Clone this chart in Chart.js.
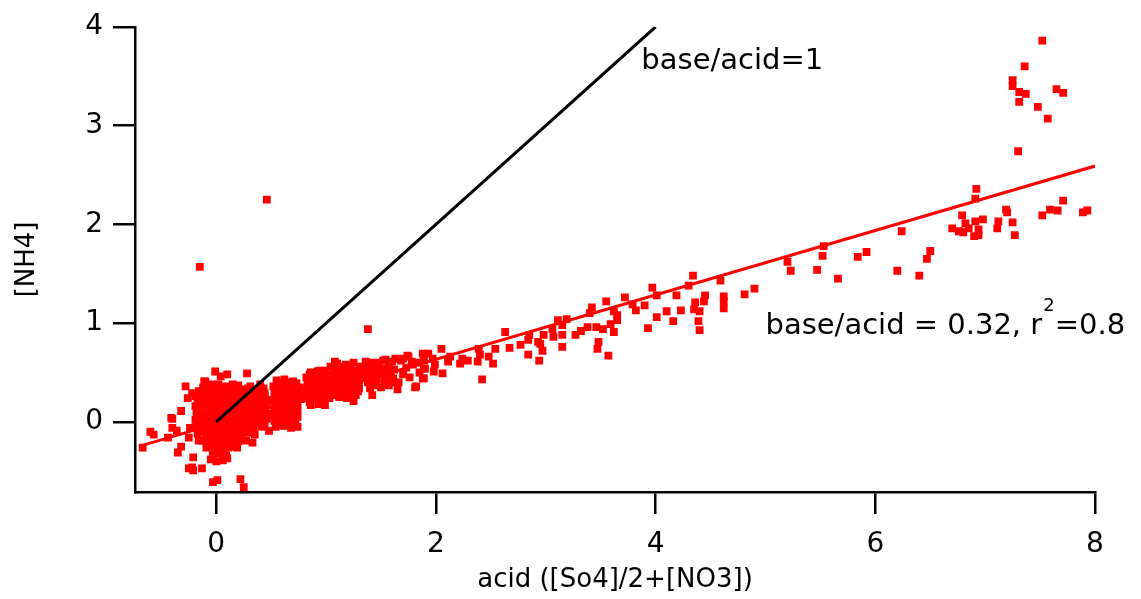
<!DOCTYPE html>
<html>
<head>
<meta charset="utf-8">
<script src="https://cdn.jsdelivr.net/npm/chart.js@4.4.0/dist/chart.umd.min.js"></script>
<style>
  html, body { margin: 0; padding: 0; background: #fff; }
  #wrap { width: 1141px; height: 599px; }
</style>
</head>
<body>
<div id="wrap"><canvas id="nh4Chart" width="1141" height="599"></canvas></div>
<script>
// axis ranges / ticks
const xRange = [-0.74, 8];
const yRange = [-0.71, 4];
const xStep = 2;
const yStep = 1;

// reference lines
const oneToOne = [[0, 0], [4, 4]];
const fitLine = [[-0.68, -0.24], [8, 2.59]];

// dense cloud around the origin
const coreCluster = [
  [-0.08,0.37],[0.02,0.38],[0.09,0.36],[0.20,0.37],[0.31,0.36],[0.40,0.38],[-0.16,0.31],[-0.12,0.35],
  [-0.07,0.30],[0.00,0.31],[0.06,0.29],[0.13,0.30],[0.19,0.31],[0.26,0.29],[0.32,0.30],[0.38,0.31],[0.44,0.29],
  [-0.17,0.23],[-0.11,0.22],[-0.04,0.24],[0.02,0.23],[0.09,0.22],[0.15,0.24],[0.21,0.23],[0.28,0.22],[0.34,0.24],[0.41,0.23],[0.47,0.22],
  [-0.19,0.16],[-0.12,0.17],[-0.06,0.15],[0.01,0.16],[0.07,0.17],[0.14,0.15],[0.20,0.16],[0.27,0.17],[0.33,0.15],[0.40,0.16],[0.46,0.17],
  [-0.18,0.09],[-0.12,0.08],[-0.05,0.10],[0.01,0.09],[0.08,0.08],[0.14,0.10],[0.21,0.09],[0.27,0.08],[0.34,0.10],[0.40,0.09],[0.47,0.08],
  [-0.19,0.02],[-0.13,0.03],[-0.06,0.01],[0.00,0.02],[0.07,0.03],[0.13,0.01],[0.20,0.02],[0.26,0.03],[0.33,0.01],[0.39,0.02],[0.46,0.03],
  [-0.18,-0.05],[-0.11,-0.04],[-0.05,-0.06],[0.02,-0.05],[0.08,-0.04],[0.15,-0.06],[0.21,-0.05],[0.28,-0.04],[0.34,-0.06],[0.41,-0.05],
  [-0.17,-0.12],[-0.10,-0.11],[-0.04,-0.13],[0.03,-0.12],[0.09,-0.11],[0.16,-0.13],[0.22,-0.12],[0.29,-0.11],[0.35,-0.13],
  [-0.12,-0.19],[-0.05,-0.18],[0.01,-0.20],[0.08,-0.19],[0.14,-0.18],[0.20,-0.20],[0.27,-0.19],
  [-0.09,-0.26],[-0.02,-0.25],[0.04,-0.27],[0.11,-0.26],[0.17,-0.25],
  [-0.03,-0.33],[0.03,-0.32],[0.09,-0.34],
  [0.00,-0.40],[0.06,-0.39]
];

// more points packed in between the core ones
const coreFill = [
  [-0.02,0.34],[0.05,0.34],[0.12,0.33],[0.17,0.34],[0.24,0.33],[0.29,0.34],[0.36,0.33],[0.43,0.34],
  [-0.14,0.26],[-0.08,0.27],[-0.01,0.26],[0.05,0.26],[0.12,0.27],[0.18,0.26],[0.25,0.26],[0.31,0.27],[0.37,0.26],[0.44,0.26],
  [-0.15,0.19],[-0.09,0.19],[-0.02,0.20],[0.04,0.19],[0.11,0.19],[0.17,0.20],[0.24,0.19],[0.30,0.19],[0.37,0.20],[0.43,0.19],
  [-0.16,0.12],[-0.09,0.12],[-0.03,0.13],[0.04,0.12],[0.10,0.12],[0.17,0.13],[0.23,0.12],[0.30,0.12],[0.36,0.13],[0.43,0.12],
  [-0.16,0.05],[-0.10,0.05],[-0.03,0.06],[0.04,0.05],[0.10,0.05],[0.17,0.06],[0.23,0.05],[0.30,0.05],[0.36,0.06],[0.43,0.05],
  [-0.16,-0.02],[-0.09,-0.02],[-0.02,-0.01],[0.05,-0.02],[0.11,-0.02],[0.18,-0.01],[0.24,-0.02],[0.31,-0.02],[0.37,-0.01],[0.44,-0.02],
  [-0.14,-0.09],[-0.07,-0.09],[-0.01,-0.08],[0.06,-0.09],[0.12,-0.09],[0.19,-0.08],[0.25,-0.09],[0.32,-0.09],
  [-0.09,-0.16],[-0.02,-0.16],[0.04,-0.15],[0.11,-0.16],[0.17,-0.16],[0.23,-0.15],
  [-0.06,-0.23],[0.01,-0.23],[0.07,-0.22],[0.14,-0.23],
  [0.00,-0.30],[0.06,-0.29]
];

// dense band from ~0.5 to ~1.9
const bandPoints = [
  [0.55,0.42],[0.62,0.43],[0.70,0.41],
  [0.52,0.36],[0.58,0.35],[0.64,0.37],[0.70,0.36],[0.76,0.35],
  [0.53,0.29],[0.59,0.30],[0.65,0.28],[0.71,0.29],[0.77,0.30],
  [0.52,0.22],[0.58,0.23],[0.64,0.21],[0.71,0.22],[0.77,0.23],
  [0.53,0.15],[0.59,0.16],[0.65,0.14],[0.71,0.15],
  [0.52,0.08],[0.58,0.09],[0.65,0.07],[0.71,0.08],
  [0.53,0.01],[0.59,0.02],[0.66,0.00],[0.72,0.01],
  [0.54,-0.05],[0.61,-0.04],[0.68,-0.06],[0.74,-0.05],
  [0.86,0.50],[0.92,0.51],[0.99,0.52],
  [0.82,0.45],[0.88,0.44],[0.95,0.46],[1.01,0.45],
  [0.83,0.38],[0.89,0.37],[0.96,0.39],[1.02,0.38],
  [0.82,0.31],[0.88,0.30],[0.95,0.32],[1.01,0.31],
  [0.83,0.24],[0.90,0.23],[0.96,0.25],[1.03,0.24],
  [0.86,0.17],[0.93,0.18],[0.99,0.17],
  [1.08,0.61],[1.10,0.59],[1.18,0.58],[1.25,0.60],
  [1.07,0.52],[1.13,0.53],[1.20,0.51],[1.27,0.52],
  [1.08,0.45],[1.14,0.44],[1.21,0.46],[1.28,0.45],
  [1.07,0.38],[1.13,0.37],[1.20,0.39],[1.26,0.38],
  [1.09,0.31],[1.16,0.30],[1.22,0.32],[1.29,0.31],
  [1.12,0.25],[1.19,0.24],
  [1.36,0.61],[1.45,0.60],[1.52,0.62],[1.60,0.61],[1.38,0.60],[1.54,0.63],[1.63,0.64],
  [1.34,0.54],[1.41,0.53],[1.48,0.55],[1.55,0.54],[1.62,0.53],
  [1.35,0.47],[1.42,0.46],[1.49,0.48],[1.57,0.47],
  [1.38,0.40],[1.45,0.41],[1.53,0.39],[1.60,0.40],
  [1.40,0.34],[1.50,0.35],
  [1.68,0.62],[1.73,0.55],[1.79,0.58],[1.85,0.50],[1.70,0.48],[1.76,0.45],[1.84,0.60],[1.90,0.54],[1.66,0.40]
];

// more points packed in between the band ones
const bandFill = [
  [0.55,0.39],[0.61,0.39],[0.67,0.40],[0.73,0.39],
  [0.55,0.32],[0.62,0.33],[0.68,0.32],[0.74,0.32],[0.79,0.33],
  [0.55,0.25],[0.61,0.26],[0.68,0.25],[0.74,0.25],[0.80,0.26],
  [0.55,0.19],[0.62,0.19],[0.68,0.18],[0.74,0.19],
  [0.55,0.12],[0.62,0.12],[0.68,0.11],[0.74,0.12],
  [0.55,0.05],[0.62,0.05],[0.68,0.04],[0.74,0.05],
  [0.56,-0.02],[0.63,-0.02],[0.69,-0.01],
  [0.85,0.48],[0.92,0.48],[0.98,0.49],[1.05,0.48],[1.11,0.48],[1.17,0.49],[1.24,0.48],[1.30,0.48],
  [0.85,0.41],[0.92,0.41],[0.98,0.42],[1.05,0.41],[1.11,0.41],[1.17,0.42],[1.24,0.41],[1.30,0.41],
  [0.85,0.34],[0.92,0.34],[0.98,0.35],[1.05,0.34],[1.11,0.34],[1.17,0.35],[1.24,0.34],[1.30,0.34],
  [0.86,0.27],[0.93,0.27],[0.99,0.28],[1.14,0.27],[1.21,0.28],[1.27,0.27],
  [0.85,0.20],[0.96,0.21],
  [1.04,0.56],[1.15,0.56],[1.22,0.55],[1.31,0.56],
  [1.40,0.58],[1.48,0.58],[1.57,0.57],
  [1.38,0.51],[1.45,0.50],[1.52,0.51],[1.59,0.50],
  [1.38,0.44],[1.46,0.43],[1.53,0.44],[1.61,0.44],
  [1.43,0.37],[1.57,0.37]
];

// scattered points left of / below the core
const lowOutliers = [
  [-0.67,-0.26],[-0.60,-0.10],[-0.57,-0.13],[-0.44,-0.16],[-0.40,0.03],[-0.40,-0.06],[-0.36,-0.09],
  [-0.32,0.11],[-0.35,-0.31],[-0.32,-0.25],[-0.28,0.36],[-0.26,0.24],[-0.22,0.29],[-0.24,-0.06],
  [-0.25,-0.16],[-0.25,-0.47],[-0.21,-0.49],[-0.21,-0.36],[-0.13,-0.47],[-0.16,-0.19],[-0.10,0.41],
  [-0.13,0.29],[-0.19,0.26],[-0.15,0.19],[-0.01,0.51],[0.04,0.46],[0.10,0.48],[0.28,0.49],
  [-0.04,0.38],[0.15,0.38],[0.01,-0.59],[-0.03,-0.61],[0.22,-0.58],[0.25,-0.66],[0.08,-0.36],
  [-0.05,-0.38],[0.19,-0.26],[0.33,-0.21],[0.05,-0.32],[-0.01,-0.32],[-0.11,0.41],[-0.41,0.04],
  [-0.22,-0.46],[0.18,-0.24],[0.48,-0.09],[0.10,-0.37],
  [-0.15,1.57],[0.46,2.25],[0.94,0.52],[1.38,0.94],[1.25,0.21],[1.42,0.27],[1.65,0.33],[1.06,0.27],
  [1.81,0.35],[1.89,0.44],[1.74,0.67]
];

// middle range, acid 1.7 - 4.4
const scatterMid = [
  [4.34,1.48],[4.30,1.38],[3.97,1.36],[4.01,1.28],[4.19,1.28],[3.72,1.26],[3.55,1.22],[3.42,1.16],
  [3.79,1.19],[3.90,1.18],[3.82,1.13],[3.40,1.10],[3.62,1.12],[3.65,1.08],[4.36,1.21],[4.35,1.14],
  [4.40,1.12],[4.10,1.12],[4.23,1.13],[4.01,1.06],[4.16,1.02],[4.39,1.02],[4.40,0.93],[3.65,1.03],
  [3.59,0.99],[3.52,0.94],[3.62,0.91],[3.93,0.95],[3.46,0.96],[3.38,0.96],[3.32,0.92],[3.27,0.88],
  [3.48,0.81],[3.47,0.74],[3.57,0.67],[3.11,1.03],[3.19,1.04],[3.15,0.98],[3.06,0.94],[3.15,0.88],
  [3.07,0.86],[3.15,0.76],[2.98,0.88],[2.85,0.88],[2.84,0.83],[2.93,0.81],[2.95,0.79],[2.97,0.72],
  [2.84,0.68],[2.94,0.62],[2.63,0.91],[2.67,0.75],[2.77,0.78],[2.54,0.74],[2.48,0.66],[2.52,0.59],
  [2.42,0.43],[2.39,0.74],[2.40,0.68],[2.38,0.61],[2.05,0.74],[2.13,0.66],[2.24,0.64],[2.29,0.62],
  [2.22,0.59],[2.11,0.61],[1.97,0.64],[1.99,0.58],[2.06,0.49],[1.89,0.62],[1.88,0.69],[1.93,0.69],
  [1.89,0.54],[1.88,0.44],[1.82,0.36],[1.98,0.51],[1.75,0.66],[1.70,0.64],[1.78,0.61]
];

// high range, acid > 4.4
const scatterHigh = [
  [7.52,3.86],[7.36,3.60],[7.25,3.46],[7.25,3.40],[7.31,3.34],[7.37,3.32],[7.31,3.24],[7.48,3.19],
  [7.57,3.07],[7.65,3.37],[7.71,3.33],[7.30,2.74],[6.92,2.36],[6.91,2.26],[7.71,2.24],
  [7.59,2.15],[7.66,2.14],[7.52,2.09],[7.89,2.12],[7.93,2.14],[7.19,2.15],[7.20,2.12],[7.12,2.03],
  [7.11,1.96],[7.25,2.02],[7.27,1.89],[6.79,2.09],[6.82,2.01],[6.98,2.05],[6.91,2.03],[6.70,1.96],
  [6.76,1.93],[6.80,1.92],[6.85,1.96],[6.90,1.88],[6.94,1.95],[6.94,1.89],[6.24,1.93],[6.50,1.73],
  [6.47,1.65],[6.40,1.48],[6.20,1.53],[5.92,1.72],[5.84,1.67],[5.66,1.45],[5.53,1.78],[5.52,1.68],
  [5.47,1.54],[5.20,1.62],[5.23,1.53],[4.59,1.43],[4.90,1.35],[4.81,1.29],[4.45,1.28],[4.62,1.27],
  [4.62,1.22],[4.44,1.22],[4.62,1.15]
];

const toXY = arr => arr.map(p => ({ x: p[0], y: p[1] }));
const allPoints = [].concat(coreCluster, coreFill, bandPoints, bandFill, lowOutliers, scatterMid, scatterHigh);

const FONT = '"DejaVu Sans", "Liberation Sans", Arial, sans-serif';
Chart.defaults.font.family = FONT;
Chart.defaults.color = '#000';

// Text notes on the plot
const notesPlugin = {
  id: 'notes',
  afterDraw(chart) {
    const { ctx, scales: { x, y } } = chart;
    ctx.save();
    ctx.fillStyle = '#000';
    ctx.textBaseline = 'alphabetic';
    ctx.textAlign = 'left';
    ctx.font = '29px ' + FONT;
    ctx.fillText('base/acid=1', x.getPixelForValue(3.87), y.getPixelForValue(3.57));

    let px = x.getPixelForValue(5.0);
    const py = y.getPixelForValue(0.89);
    const part1 = 'base/acid = 0.32, r';
    ctx.fillText(part1, px, py);
    px += ctx.measureText(part1).width + 1;
    ctx.font = '18px ' + FONT;
    ctx.fillText('2', px, py - 23);
    px += ctx.measureText('2').width;
    ctx.font = '29px ' + FONT;
    ctx.fillText('=0.8', px, py);
    ctx.restore();
  }
};

new Chart(document.getElementById('nh4Chart'), {
  type: 'scatter',
  data: {
    datasets: [
      {
        data: toXY(allPoints),
        pointStyle: 'rect',
        pointRadius: 5.5,
        backgroundColor: '#ff0000',
        borderWidth: 0,
        order: 2
      },
      {
        data: toXY(oneToOne),
        showLine: true,
        borderColor: '#000',
        borderWidth: 3,
        pointRadius: 0,
        order: 0
      },
      {
        data: toXY(fitLine),
        showLine: true,
        borderColor: '#ff0000',
        borderWidth: 3,
        pointRadius: 0,
        order: 1
      }
    ]
  },
  options: {
    responsive: false,
    animation: false,
    events: [],
    layout: { padding: { top: 22, right: 46, left: 0, bottom: 0 } },
    plugins: { legend: { display: false }, tooltip: { enabled: false } },
    scales: {
      x: {
        type: 'linear',
        min: xRange[0],
        max: xRange[1],
        ticks: { stepSize: xStep, includeBounds: false, padding: 14, maxRotation: 0, color: '#000', font: { size: 28 } },
        grid: { drawOnChartArea: false, drawTicks: true, tickLength: 22, color: '#000', lineWidth: 2.5 },
        border: { display: true, color: '#000', width: 2.5 },
        title: { display: true, text: 'acid ([So4]/2+[NO3])', color: '#000', font: { size: 26 }, padding: { top: 0, bottom: 3 } },
        afterFit: s => { s.height = 107; }
      },
      y: {
        type: 'linear',
        min: yRange[0],
        max: yRange[1],
        ticks: { stepSize: yStep, includeBounds: false, padding: 10, color: '#000', font: { size: 28 } },
        grid: { drawOnChartArea: false, drawTicks: true, tickLength: 22, color: '#000', lineWidth: 2.5 },
        border: { display: true, color: '#000', width: 2.5 },
        title: { display: true, text: '[NH4]', color: '#000', font: { size: 26 }, padding: { top: 12, bottom: 0 } },
        afterFit: s => { s.width = 135; }
      }
    }
  },
  plugins: [notesPlugin]
});
</script>
</body>
</html>
